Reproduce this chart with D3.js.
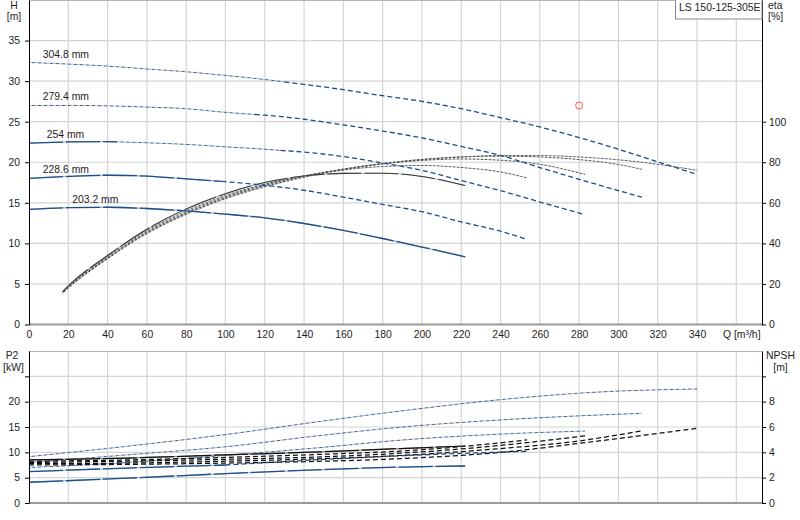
<!DOCTYPE html>
<html>
<head>
<meta charset="utf-8">
<script src="https://cdn.jsdelivr.net/npm/d3@7"></script>
<style>
    body { margin: 0; background: #fff; }
    text { font-family: "Liberation Sans", Arial, sans-serif; font-size: 10.4px; fill: #1e1e1e; }
</style>
</head>
<body>
<div id="chart"></div>
<script>
// impeller diameters and where their labels sit (Q)
var diameters = ["304.8 mm", "279.4 mm", "254 mm", "228.6 mm", "203.2 mm"];
var labelQ = [7, 7, 9, 7, 22];
var pumpName = "LS 150-125-305E";
var dutyPoint = [280, 27.0];

var qTicks = [0, 20, 40, 60, 80, 100, 120, 140, 160, 180, 200, 220, 240, 260, 280, 300, 320, 340];
var qGrid = [20, 40, 60, 80, 100, 120, 140, 160, 180, 200, 220, 240, 260, 280, 300, 320, 340, 360];
var hTicks = [0, 5, 10, 15, 20, 25, 30, 35];
var etaTicks = [0, 20, 40, 60, 80, 100];
var p2Ticks = [0, 5, 10, 15, 20, 25];
var npshTicks = [0, 2, 4, 6, 8, 10];

// Q-H  [Q m3/h, H m]
var h3048 = [[0, 32.3], [20, 32.1], [40, 31.85], [60, 31.5], [80, 31.15], [100, 30.7], [120, 30.2], [140, 29.6], [160, 28.95], [180, 28.2], [200, 27.5], [220, 26.6], [240, 25.5], [260, 24.35], [280, 23.05], [300, 21.6], [320, 20.05], [340, 18.5]];
var h2794 = [[0, 27.0], [20, 27.0], [40, 26.95], [60, 26.8], [80, 26.6], [100, 26.15], [120, 25.8], [140, 25.3], [160, 24.6], [180, 23.85], [200, 23.0], [220, 21.95], [240, 20.85], [260, 19.35], [280, 17.9], [300, 16.5], [312, 15.7]];
var h254 = [[0, 22.35], [20, 22.5], [40, 22.55], [60, 22.4], [80, 22.2], [100, 21.9], [120, 21.6], [140, 21.25], [160, 20.7], [180, 19.9], [200, 19.0], [220, 17.75], [240, 16.5], [260, 15.1], [283, 13.55]];
var h2286 = [[0, 18.0], [20, 18.25], [40, 18.4], [60, 18.3], [80, 17.95], [100, 17.6], [120, 17.15], [140, 16.55], [160, 15.7], [180, 14.8], [200, 13.9], [220, 12.65], [240, 11.5], [253.5, 10.5]];
var h2032 = [[0, 14.2], [20, 14.4], [40, 14.45], [60, 14.3], [80, 14.0], [100, 13.6], [120, 13.15], [140, 12.45], [160, 11.6], [180, 10.6], [200, 9.55], [222, 8.35]];

// efficiency  [Q, eta %]
var e3048 = [[17, 15.4], [20, 18], [40, 32.4], [60, 44.8], [80, 54.3], [100, 62], [120, 67.9], [140, 72.6], [160, 76.3], [180, 79.2], [200, 81.3], [220, 82.6], [240, 83.3], [260, 83.3], [280, 82.6], [300, 81.2], [320, 79], [340, 76]];
var e2794 = [[17, 15.5], [20, 18.1], [40, 32.7], [60, 45.2], [80, 54.8], [100, 62.5], [120, 68.4], [140, 73], [160, 76.6], [180, 79.4], [200, 81.4], [220, 82.6], [240, 83], [260, 82.6], [280, 81.3], [300, 78.9], [312, 76.5]];
var e254 = [[17, 15.6], [20, 18.3], [40, 33], [60, 45.7], [80, 55.3], [100, 63], [120, 68.8], [140, 73.2], [160, 76.6], [180, 79.2], [200, 80.9], [220, 81.6], [240, 81], [260, 79], [283, 74]];
var e2286 = [[17, 15.8], [20, 18.6], [40, 33.5], [60, 46.3], [80, 56], [100, 63.6], [120, 69.2], [140, 73.3], [160, 76.2], [180, 77.9], [200, 78.4], [220, 77.4], [240, 75.2], [253.5, 72.3]];
var e2032 = [[17, 16], [20, 19], [40, 34], [60, 47], [80, 57], [100, 64.5], [120, 70], [140, 73.2], [160, 74.5], [180, 74.6], [200, 73], [222, 68.5]];

// shaft power  [Q, P2 kW]
var p3048 = [[0, 9.15], [50, 11.2], [100, 13.5], [150, 16.2], [190, 18.2], [240, 20.4], [290, 21.9], [340, 22.5]];
var p2794 = [[0, 8.0], [50, 9.5], [100, 11.1], [150, 13.4], [189, 14.96], [240, 16.4], [280, 17.2], [312, 17.7]];
var p254 = [[0, 7.0], [50, 8.0], [100, 9.4], [150, 11.0], [189, 12.4], [240, 13.6], [283, 14.2]];
var p2286 = [[0, 6.2], [50, 6.9], [100, 7.5], [150, 8.6], [200, 9.5], [253.5, 10.2]];
var p2032 = [[0, 4.1], [50, 4.9], [100, 5.8], [150, 6.6], [190, 7.1], [222, 7.3]];

// NPSH  [Q, m]
var n3048 = [[0, 3.0], [50, 3.05], [100, 3.15], [150, 3.3], [189, 3.5], [240, 4.0], [290, 4.9], [340, 5.9]];
var n2794 = [[0, 3.1], [50, 3.15], [100, 3.3], [150, 3.5], [189, 3.75], [240, 4.3], [280, 4.9], [312, 5.7]];
var n254 = [[0, 3.2], [50, 3.3], [100, 3.45], [150, 3.65], [189, 3.93], [240, 4.55], [283, 5.3]];
var n2286 = [[0, 3.3], [50, 3.4], [100, 3.6], [150, 3.85], [189, 4.1], [220, 4.45], [253.5, 4.98]];
var n2032 = [[0, 3.4], [50, 3.55], [100, 3.8], [150, 4.05], [189, 4.3], [222, 4.5]];

var headCurves = [h3048, h2794, h254, h2286, h2032];
var etaCurves = [e3048, e2794, e254, e2286, e2032];
var powerCurves = [p3048, p2794, p254, p2286, p2032];
var npshCurves = [n3048, n2794, n254, n2286, n2032];

// line style pieces per diameter: [fromQ, toQ, style]
var headStyles = [
    [[0, 130, "dotted"], [130, 999, "dashed"]],
    [[0, 115, "dotted"], [115, 999, "dashed"]],
    [[0, 45, "solid"], [45, 128, "dotted"], [128, 999, "dashed"]],
    [[0, 98, "solid"], [98, 999, "dashed"]],
    [[0, 999, "solid"]]
];
var etaStyles = [
    [[0, 999, "dotted"]], [[0, 999, "dotted"]], [[0, 999, "dotted"]], [[0, 999, "dotted"]], [[0, 999, "solid"]]
];
var powerStyles = [
    [[0, 999, "dotted"]], [[0, 999, "dotted"]], [[0, 999, "dotted"]],
    [[0, 100, "solid"], [100, 999, "dashed"]],
    [[0, 999, "solid"]]
];
var npshStyles = [
    [[0, 999, "dashed"]], [[0, 999, "dashed"]], [[0, 999, "dashed"]], [[0, 999, "dashed"]], [[0, 999, "solid"]]
];

var width = 800;
var height = 520;
var plotLeft = 29;
var plotRight = 762;

var x = d3.scaleLinear().domain([0, 340]).range([29, 697]);
var yH = d3.scaleLinear().domain([0, 40]).range([324.5, 0]);
var yEta = d3.scaleLinear().domain([0, 160]).range([324.5, 0]);
var yP2 = d3.scaleLinear().domain([0, 30]).range([503, 351]);
var yNpsh = d3.scaleLinear().domain([0, 12]).range([503, 351]);

var svg = d3.select("#chart")
    .append("svg")
    .attr("width", width)
    .attr("height", height);

function valueAt(pts, q) {
    for (var i = 1; i < pts.length; i++) {
        if (q <= pts[i][0]) {
            var t = (q - pts[i - 1][0]) / (pts[i][0] - pts[i - 1][0]);
            return pts[i - 1][1] + t * (pts[i][1] - pts[i - 1][1]);
        }
    }
    return pts[pts.length - 1][1];
}

function piece(pts, from, to) {
    from = Math.max(from, pts[0][0]);
    to = Math.min(to, pts[pts.length - 1][0]);
    var out = [[from, valueAt(pts, from)]];
    pts.forEach(function (p) {
        if (p[0] > from && p[0] < to) out.push(p);
    });
    out.push([to, valueAt(pts, to)]);
    return out;
}

function grid(top, bottom, yScale, values) {
    var g = svg.append("g").attr("class", "grid");
    g.selectAll("line.v")
        .data(qGrid)
        .enter()
        .append("line")
        .attr("x1", function (d) { return x(d); })
        .attr("x2", function (d) { return x(d); })
        .attr("y1", top)
        .attr("y2", bottom)
        .attr("stroke", "#d4d4d4")
        .attr("stroke-width", 1.2);
    g.selectAll("line.h")
        .data(values)
        .enter()
        .append("line")
        .attr("x1", plotLeft)
        .attr("x2", plotRight)
        .attr("y1", function (d) { return yScale(d); })
        .attr("y2", function (d) { return yScale(d); })
        .attr("stroke", "#d4d4d4")
        .attr("stroke-width", 1.2);
    // top border
    g.append("line")
        .attr("x1", plotLeft).attr("x2", plotRight)
        .attr("y1", top + 0.5).attr("y2", top + 0.5)
        .attr("stroke", "#b4b4b4");
    // bottom axis line
    g.append("line")
        .attr("x1", plotLeft).attr("x2", plotRight)
        .attr("y1", bottom).attr("y2", bottom)
        .attr("stroke", "#9a9a9a")
        .attr("stroke-width", 2);
}

grid(0, yH(0), yH, [5, 10, 15, 20, 25, 30, 35]);
grid(yP2(30), yP2(0), yP2, [5, 10, 15, 20, 25]);

function drawCurve(pts, yScale, styles, ink, under, w, dash) {
    var line = d3.line()
        .x(function (d) { return x(d[0]); })
        .y(function (d) { return yScale(d[1]); })
        .curve(d3.curveMonotoneX);
    var g = svg.append("g").attr("fill", "none");
    styles.forEach(function (s) {
        var d = line(piece(pts, s[0], s[1]));
        if (s[2] === "solid") {
            g.append("path").attr("d", d).attr("stroke", under).attr("stroke-width", w);
            g.append("path").attr("d", d).attr("stroke", ink).attr("stroke-width", w)
                .attr("stroke-dasharray", "34,3");
        } else if (s[2] === "dotted") {
            g.append("path").attr("d", d).attr("stroke", under).attr("stroke-width", 0.9)
                .attr("stroke-dasharray", dash);
            g.append("path").attr("d", d).attr("stroke", ink).attr("stroke-width", 0.9)
                .attr("stroke-dasharray", dash).attr("stroke-dashoffset", parseFloat(dash));
        } else {
            g.append("path").attr("d", d).attr("stroke", ink).attr("stroke-width", w)
                .attr("stroke-dasharray", "5,3");
        }
    });
}

var blue = "#1b4e8c";
var blueUnder = "#aeb6c6";

etaCurves.forEach(function (c, i) {
    drawCurve(c, yEta, etaStyles[i], "#3a3a3a", "#b8b8b8", 1.1, "2,2");
});
headCurves.forEach(function (c, i) {
    drawCurve(c, yH, headStyles[i], blue, blueUnder, 1.3, "3,3");
});
powerCurves.forEach(function (c, i) {
    drawCurve(c, yP2, powerStyles[i], blue, blueUnder, 1.3, "3,3");
});
npshCurves.forEach(function (c, i) {
    drawCurve(c, yNpsh, npshStyles[i], "#111", "#8a8a8a", 1.25, "3,3");
});

// diameter labels above each head curve
svg.selectAll("text.dia")
    .data(diameters)
    .enter()
    .append("text")
    .attr("class", "dia")
    .attr("x", function (d, i) { return x(labelQ[i]); })
    .attr("y", function (d, i) { return yH(valueAt(headCurves[i], labelQ[i])) - 5; })
    .text(function (d) { return d; });

// duty point
svg.append("circle")
    .attr("cx", x(dutyPoint[0]))
    .attr("cy", yH(dutyPoint[1]))
    .attr("r", 3.5)
    .attr("fill", "none")
    .attr("stroke", "#ff5a5a")
    .attr("stroke-width", 1);

// axes
function styleAxis(g) {
    g.selectAll(".domain").attr("stroke", "#000");
    g.selectAll(".tick line").attr("stroke", "#000");
    g.selectAll(".tick text").attr("font-size", null).attr("font-family", null);
}

svg.append("g")
    .attr("transform", "translate(" + plotLeft + ",0)")
    .call(d3.axisLeft(yH).tickValues(hTicks).tickSize(4).tickSizeOuter(0).tickPadding(5))
    .call(styleAxis);

svg.append("g")
    .attr("transform", "translate(" + plotRight + ",0)")
    .call(d3.axisRight(yEta).tickValues(etaTicks).tickSize(4).tickSizeOuter(0).tickPadding(3))
    .call(styleAxis);

svg.append("g")
    .attr("transform", "translate(" + plotLeft + ",0)")
    .call(d3.axisLeft(yP2).tickValues(p2Ticks).tickSize(4).tickSizeOuter(0).tickPadding(5)
        .tickFormat(function (d) { return d > 20 ? "" : d; }))
    .call(styleAxis);

svg.append("g")
    .attr("transform", "translate(" + plotRight + ",0)")
    .call(d3.axisRight(yNpsh).tickValues(npshTicks).tickSize(4).tickSizeOuter(0).tickPadding(3)
        .tickFormat(function (d) { return d > 8 ? "" : d; }))
    .call(styleAxis);

var xAxis = svg.append("g")
    .attr("transform", "translate(0," + yH(0) + ")")
    .call(d3.axisBottom(x).tickValues(qTicks).tickSize(0).tickPadding(6))
    .call(styleAxis);
xAxis.select(".domain").remove();

// unit labels
svg.append("text").attr("x", 14).attr("y", 8.5).style("text-anchor", "middle").text("H");
svg.append("text").attr("x", 14).attr("y", 20).style("text-anchor", "middle").text("[m]");
svg.append("text").attr("x", 768).attr("y", 8.5).text("eta");
svg.append("text").attr("x", 768).attr("y", 20).text("[%]");
svg.append("text").attr("x", 723).attr("y", 338).text("Q [m\u00b3/h]");
svg.append("text").attr("x", 12).attr("y", 359).style("text-anchor", "middle").text("P2");
svg.append("text").attr("x", 13.5).attr("y", 370.5).style("text-anchor", "middle").text("[kW]");
svg.append("text").attr("x", 780.5).attr("y", 359).style("text-anchor", "middle").text("NPSH");
svg.append("text").attr("x", 780.5).attr("y", 370.5).style("text-anchor", "middle").text("[m]");

// pump name box
svg.append("rect")
    .attr("x", 675.5)
    .attr("y", -1)
    .attr("width", plotRight - 675.5)
    .attr("height", 20)
    .attr("fill", "#fff")
    .attr("stroke", "#8a8a8a");
svg.append("text").attr("x", 679).attr("y", 11).text(pumpName);
</script>
</body>
</html>
